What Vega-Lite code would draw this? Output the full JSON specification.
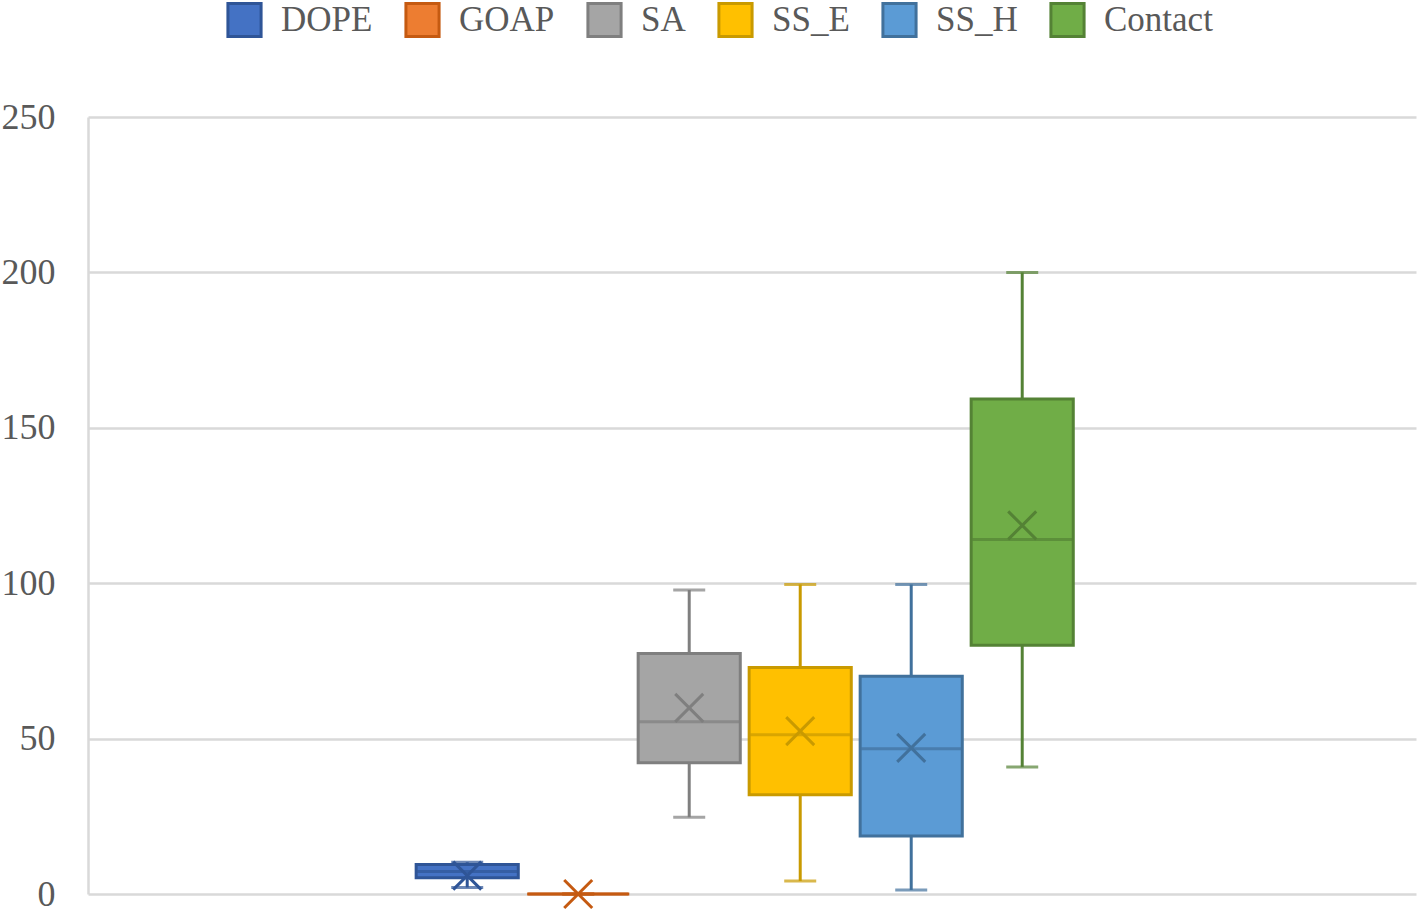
{
  "$schema": "https://vega.github.io/schema/vega-lite/v6.json",
  "width": 1328,
  "height": 777,
  "autosize": {"type": "none"},
  "padding": {"left": 88, "top": 117, "right": 2, "bottom": 19},
  "background": "white",
  "config": {
    "view": {"stroke": null},
    "font": "Liberation Serif",
    "legend": {
      "orient": "none",
      "legendX": 138,
      "legendY": -116,
      "direction": "horizontal",
      "padding": 0,
      "symbolType": "square",
      "symbolSize": 1100,
      "symbolStrokeWidth": 3,
      "labelFont": "Liberation Serif",
      "labelFontSize": 35,
      "labelColor": "#595959",
      "labelOffset": 18,
      "columnPadding": 26,
      "labelLimit": 400
    }
  },
  "data": {
    "values": [
      {"series": "DOPE", "min": 2.1, "q1": 5.2, "median": 7.2, "q3": 9.5, "max": 10.2, "mean": 5.9},
      {"series": "GOAP", "min": 0, "q1": 0, "median": 0, "q3": 0, "max": 0, "mean": 0},
      {"series": "SA", "min": 24.7, "q1": 42.2, "median": 55.4, "q3": 77.4, "max": 97.8, "mean": 59.9},
      {"series": "SS_E", "min": 4.2, "q1": 31.9, "median": 51.2, "q3": 72.9, "max": 99.6, "mean": 52.4},
      {"series": "SS_H", "min": 1.3, "q1": 18.7, "median": 46.7, "q3": 70.1, "max": 99.6, "mean": 47.0},
      {"series": "Contact", "min": 40.9, "q1": 80.0, "median": 114.1, "q3": 159.3, "max": 200, "mean": 118.6}
    ]
  },
  "encoding": {
    "x": {
      "datum": "group",
      "type": "nominal",
      "scale": {"paddingInner": 0, "paddingOuter": 0.497, "align": 0.489},
      "axis": null
    },
    "xOffset": {
      "field": "series",
      "type": "nominal",
      "sort": ["DOPE", "GOAP", "SA", "SS_E", "SS_H", "Contact"],
      "scale": {"paddingInner": 0.08, "paddingOuter": 0.04}
    }
  },
  "layer": [
    {
      "mark": {"type": "rect", "strokeWidth": 3},
      "encoding": {
        "y": {
          "field": "q1",
          "type": "quantitative",
          "scale": {"domain": [0, 250], "nice": false},
          "axis": {
            "values": [0, 50, 100, 150, 200, 250],
            "title": null,
            "grid": true,
            "gridColor": "#d9d9d9",
            "gridWidth": 2.5,
            "domain": true,
            "domainColor": "#d9d9d9",
            "domainWidth": 2.5,
            "ticks": false,
            "labelPadding": 33,
            "labelFont": "Liberation Serif",
            "labelFontSize": 36,
            "labelColor": "#595959"
          }
        },
        "y2": {"field": "q3"},
        "fill": {
          "field": "series",
          "type": "nominal",
          "sort": ["DOPE", "GOAP", "SA", "SS_E", "SS_H", "Contact"],
          "scale": {
            "domain": ["DOPE", "GOAP", "SA", "SS_E", "SS_H", "Contact"],
            "range": ["#4472C4", "#ED7D31", "#A5A5A5", "#FFC000", "#5B9BD5", "#70AD47"]
          },
          "legend": {
            "title": null,
            "encode": {
              "symbols": {
                "update": {
                  "fill": {"scale": "fill", "field": "value"},
                  "stroke": {"scale": "stroke", "field": "value"},
                  "strokeWidth": {"value": 3},
                  "fillOpacity": {"value": 1}
                }
              }
            }
          }
        },
        "stroke": {
          "field": "series",
          "type": "nominal",
          "sort": ["DOPE", "GOAP", "SA", "SS_E", "SS_H", "Contact"],
          "scale": {
            "domain": ["DOPE", "GOAP", "SA", "SS_E", "SS_H", "Contact"],
            "range": ["#2F5597", "#C55A11", "#7F7F7F", "#C99A00", "#41719C", "#548235"]
          },
          "legend": {
            "title": null,
            "encode": {
              "symbols": {
                "update": {
                  "fill": {"scale": "fill", "field": "value"},
                  "stroke": {"scale": "stroke", "field": "value"},
                  "strokeWidth": {"value": 3},
                  "fillOpacity": {"value": 1}
                }
              }
            }
          }
        }
      }
    },
    {
      "mark": {"type": "rule", "strokeWidth": 3},
      "encoding": {
        "y": {"field": "min", "type": "quantitative"},
        "y2": {"field": "q1"},
        "stroke": {"field": "series", "type": "nominal"}
      }
    },
    {
      "mark": {"type": "rule", "strokeWidth": 3},
      "encoding": {
        "y": {"field": "q3", "type": "quantitative"},
        "y2": {"field": "max"},
        "stroke": {"field": "series", "type": "nominal"}
      }
    },
    {
      "mark": {"type": "tick", "size": 32, "thickness": 3, "orient": "horizontal"},
      "encoding": {
        "y": {"field": "min", "type": "quantitative"},
        "color": {"field": "series", "type": "nominal", "scale": {"domain": ["DOPE", "GOAP", "SA", "SS_E", "SS_H", "Contact"], "range": ["#2F5597", "#C55A11", "#7F7F7F", "#C99A00", "#41719C", "#548235"]}, "legend": null}
      }
    },
    {
      "mark": {"type": "tick", "size": 32, "thickness": 3, "orient": "horizontal"},
      "encoding": {
        "y": {"field": "max", "type": "quantitative"},
        "color": {"field": "series", "type": "nominal", "legend": null}
      }
    },
    {
      "mark": {"type": "tick", "size": 100, "thickness": 3, "orient": "horizontal"},
      "encoding": {
        "y": {"field": "median", "type": "quantitative"},
        "color": {"field": "series", "type": "nominal", "legend": null}
      }
    },
    {
      "mark": {"type": "point", "shape": "M-1,-1L1,1M-1,1L1,-1", "filled": false, "strokeWidth": 3, "size": 784, "opacity": 1},
      "encoding": {
        "y": {"field": "mean", "type": "quantitative"},
        "stroke": {"field": "series", "type": "nominal"}
      }
    }
  ]
}
